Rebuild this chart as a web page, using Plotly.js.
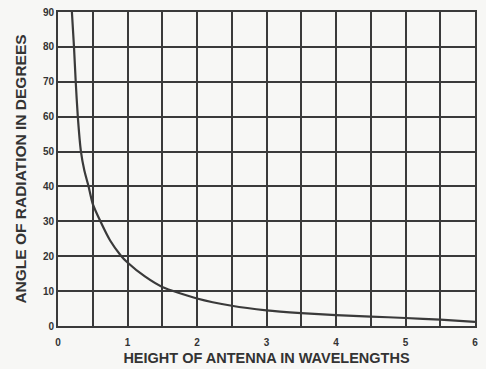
<!DOCTYPE html>
<html><head><meta charset="utf-8">
<script src="https://cdn.plot.ly/plotly-3.0.1.min.js"></script>
<style>body{margin:0;background:#f7f7f5}</style>
</head><body>
<div id="chart" style="width:486px;height:369px"></div>
<script>
const heightWavelengths = [0.20, 0.23, 0.255, 0.285, 0.33, 0.38, 0.44, 0.5, 0.61, 0.75, 0.9, 1.0, 1.25, 1.5, 2.0, 2.5, 3.0, 3.5, 4.0, 4.5, 5.0, 5.5, 6.0];
const angleDegrees = [90, 80, 70, 60, 50, 44.5, 40, 35, 30, 24.5, 20.3, 18.2, 14.2, 11.2, 7.9, 5.8, 4.5, 3.7, 3.1, 2.7, 2.3, 1.8, 1.2];
const xTickVals = [0, 0.5, 1, 1.5, 2, 2.5, 3, 3.5, 4, 4.5, 5, 5.5, 6];
const xTickText = ['0', '', '1', '', '2', '', '3', '', '4', '', '5', '', '6'];
const yTickVals = [0, 10, 20, 30, 40, 50, 60, 70, 80, 90];
const yTickText = ['0', '10', '20', '30', '40', '50', '60', '70', '80', '90'];

const ink = '#3a3a3a';
Plotly.newPlot('chart', [{
  x: heightWavelengths, y: angleDegrees, type: 'scatter', mode: 'lines',
  line: {color: ink, width: 2.2, shape: 'spline', smoothing: 0.6},
  hoverinfo: 'skip'
}], {
  width: 486, height: 369,
  margin: {l: 58, r: 11, t: 12, b: 43},
  paper_bgcolor: '#f7f7f5', plot_bgcolor: '#f7f7f5',
  showlegend: false,
  font: {family: 'Liberation Sans, Arial, sans-serif', color: '#333'},
  xaxis: {
    range: [0, 6], tickmode: 'array', tickvals: xTickVals, ticktext: xTickText,
    showgrid: true, gridcolor: ink, gridwidth: 2, zeroline: false,
    showline: true, linecolor: ink, linewidth: 2, mirror: true,
    ticks: '', ticklabelstandoff: 6,
    tickfont: {size: 10, weight: 'bold'},
    title: {text: 'HEIGHT OF ANTENNA IN WAVELENGTHS', font: {size: 14.5, weight: 'bold'}, standoff: 6}
  },
  yaxis: {
    range: [0, 90], tickmode: 'array', tickvals: yTickVals, ticktext: yTickText,
    showgrid: true, gridcolor: ink, gridwidth: 2, zeroline: false,
    showline: true, linecolor: ink, linewidth: 2, mirror: true,
    ticks: '', tickfont: {size: 10, weight: 'bold'},
    title: {text: 'ANGLE OF RADIATION IN DEGREES', font: {size: 15.5, weight: 'bold'}, standoff: 12}
  }
}, {displayModeBar: false, staticPlot: true});
</script>
</body></html>
